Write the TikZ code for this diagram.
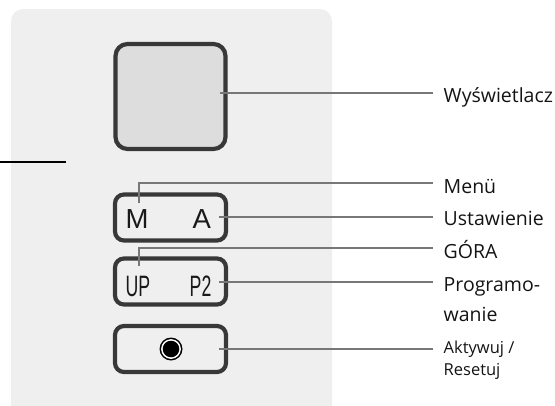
\documentclass[tikz,border=0pt]{standalone}
\usepackage{fontspec}
\setmainfont{Open Sans}
\newfontfamily\keyfont{Liberation Sans}
\definecolor{panelgray}{HTML}{EFEFEF}
\definecolor{screengray}{HTML}{DCDDDC}
\definecolor{framegray}{HTML}{383838}
\definecolor{leadergray}{HTML}{777777}
\begin{document}
\begin{tikzpicture}[x=1pt,y=-1pt,
  frame/.style={draw=framegray, line width=4.2pt, rounded corners=9pt},
  leader/.style={draw=leadergray, line width=1.4pt},
  label/.style={anchor=base west, inner sep=0pt, font=\fontsize{19.5}{30}\selectfont, text=black!92},
  smalllabel/.style={anchor=base west, inner sep=0pt, font=\fontsize{16.5}{22}\selectfont, text=black!92},
  keytext/.style={inner sep=0pt, anchor=base west, font=\keyfont\fontsize{27.5}{27.5}\selectfont, text=black!90},
  narrowtext/.style={inner sep=0pt, anchor=base west, font=\keyfont\fontsize{29.5}{29.5}\selectfont, text=black!90}]
  \useasboundingbox (0,0) rectangle (555,405);
  % housing
  \fill[panelgray, rounded corners=12pt] (11,9) rectangle (332,420);
  % side bar
  \draw[black, line width=2pt] (0,162) -- (66,162);
  % display and keys
  \node[frame, fill=screengray, minimum width=110pt, minimum height=105pt, inner sep=0pt, rounded corners=12pt] (disp) at (170.5,96.5) {};
  \node[frame, fill=panelgray, minimum width=111pt, minimum height=46pt, inner sep=0pt] (key1) at (170.5,217.5) {};
  \node[frame, fill=panelgray, minimum width=111pt, minimum height=46pt, inner sep=0pt] (key2) at (170.5,281.5) {};
  \node[frame, fill=panelgray, minimum width=111pt, minimum height=46pt, inner sep=0pt] (key3) at (170.5,349) {};
  % key legends
  \node[keytext] (km) at (125.5,228) {M};
  \node[keytext] (ka) at (192.5,228) {A};
  \node[narrowtext] (kup) at (125.5,296) {\scalebox{0.6}[1]{UP}};
  \node[narrowtext] (kp2) at (189.5,296) {\scalebox{0.6}[1]{P2}};
  % reset button
  \fill[black] (171,349) circle (11.5);
  \fill[white] (171,349) circle (9.9);
  \fill[black] (171,349) coordinate (btn) circle (8.3);
  % leader end points
  \coordinate (d0) at (220,93);
  \coordinate (m0) at (139,203);
  \coordinate (a0) at (219,217);
  \coordinate (u0) at (139,266);
  \coordinate (p0) at (219,282);
  \coordinate (r0) at (219,349);
  % labels
  \node[label] (lw) at (443.5,102) {Wyświetlacz};
  \node[label] (lm) at (443.5,193) {Menü};
  \node[label] (lu) at (443.5,225) {Ustawienie};
  \node[label] (lg) at (443.5,258) {GÓRA};
  \node[label] (lp) at (443.5,291) {Programo-};
  \node[label] (lp2) at (443.5,321) {wanie};
  \node[smalllabel] (lr) at (443.5,353) {Aktywuj /};
  \node[smalllabel] (lr2) at (443.5,375) {Resetuj};
  % leaders
  \draw[leader] (d0) -- (433,93) coordinate (d1);
  \draw[leader] (m0) |- (433,183) coordinate (m1);
  \draw[leader] (a0) -- (433,217) coordinate (a1);
  \draw[leader] (u0) |- (433,248) coordinate (u1);
  \draw[leader] (p0) -- (433,282) coordinate (p1);
  \draw[leader] (r0) -- (433,349) coordinate (r1);
\end{tikzpicture}
\end{document}
